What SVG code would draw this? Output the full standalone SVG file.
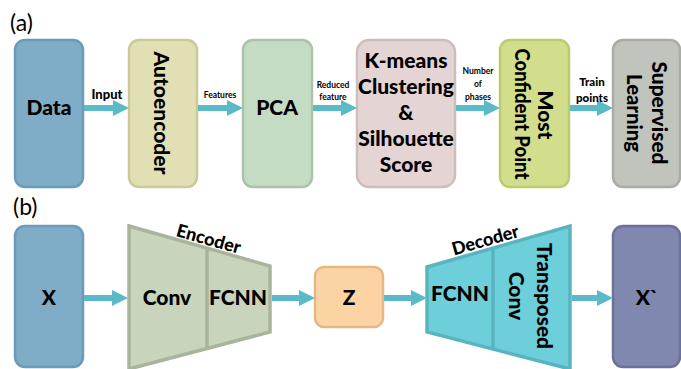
<svg xmlns="http://www.w3.org/2000/svg" width="681" height="369" viewBox="0 0 681 369">
<defs>
<style>
text{font-family:Lato,"Open Sans","Liberation Sans",sans-serif;font-weight:900;fill:#000;text-anchor:middle;}
.big{font-size:21px;}
.lbl{font-size:13px;}
.sm{font-size:8.5px;font-weight:bold;}
.panel{font-weight:normal;font-size:23px;text-anchor:start;}
.tag{font-size:18px;}
.box{stroke-width:2.5;}
.arrow{stroke:#5bbac8;stroke-width:6;fill:none;}
.head{fill:#5bbac8;}
</style>
</defs>
<text class="panel" x="10" y="31">(a)</text>
<text class="panel" x="13" y="215">(b)</text>

<g id="data"><rect class="box" x="15" y="40" width="68" height="147" rx="10" fill="#7fadc8" stroke="#6b9bb8"/><text class="big" x="49" y="115">Data</text></g>
<g id="autoencoder"><rect class="box" x="129" y="40" width="68" height="147" rx="10" fill="#e0e0b4" stroke="#c9c99a"/><text class="big" transform="translate(154,113) rotate(90)" textLength="123" lengthAdjust="spacingAndGlyphs">Autoencoder</text></g>
<g id="pca"><rect class="box" x="243" y="40" width="69" height="147" rx="10" fill="#c4dcc4" stroke="#a9c4a7"/><text class="big" x="277" y="115">PCA</text></g>
<g id="kmeans"><rect class="box" x="357" y="40" width="98" height="147" rx="12" fill="#e4d4d4" stroke="#cdbdbd"/>
<text class="big" x="406" y="68">K-means</text><text class="big" x="406" y="94">Clustering</text><text class="big" x="406" y="120">&amp;</text><text class="big" x="406" y="146">Silhouette</text><text class="big" x="406" y="172">Score</text></g>
<g id="confident"><rect class="box" x="500" y="40" width="69" height="147" rx="10" fill="#d2de8c" stroke="#bccb72"/><text class="big" transform="translate(538,115) rotate(90)">Most</text><text class="big" transform="translate(515,114) rotate(90)" textLength="131" lengthAdjust="spacingAndGlyphs">Confident Point</text></g>
<g id="supervised"><rect class="box" x="613" y="40" width="67" height="147" rx="10" fill="#c0c4bc" stroke="#a8aca4"/><text class="big" transform="translate(652,113) rotate(90)" textLength="103" lengthAdjust="spacingAndGlyphs">Supervised</text><text class="big" transform="translate(627,113) rotate(90)" textLength="78" lengthAdjust="spacingAndGlyphs">Learning</text></g>

<g id="x"><rect class="box" x="15" y="226" width="68" height="141" rx="10" fill="#7fadc8" stroke="#6b9bb8"/><text class="big" x="49" y="305">X</text></g>
<g id="encoder"><polygon points="129,226 270,266 270,332 129,369" fill="#c8d4bc" stroke="#a8b49c" stroke-width="3.5"/><line x1="207" y1="248" x2="207" y2="347" stroke="#a8b49c" stroke-width="3.5"/>
<text class="tag" transform="translate(207,245) rotate(15.7)">Encoder</text>
<text class="big" x="167" y="305">Conv</text><text class="big" x="238" y="305">FCNN</text></g>
<g id="z"><rect class="box" x="315" y="267" width="68" height="60" rx="9" fill="#fcd4a4" stroke="#e3b886"/><text class="big" x="349" y="305">Z</text></g>
<g id="decoder"><polygon points="427,267 570,226 570,369 427,332" fill="#6ccfda" stroke="#5ab4c0" stroke-width="3.5"/><line x1="493" y1="249" x2="493" y2="350" stroke="#5ab4c0" stroke-width="3.5"/>
<text class="tag" transform="translate(487,246) rotate(-16)">Decoder</text>
<text class="big" x="460" y="301">FCNN</text><text class="big" transform="translate(537,296) rotate(90)" textLength="106" lengthAdjust="spacingAndGlyphs">Transposed</text><text class="big" transform="translate(509,296) rotate(90)">Conv</text></g>
<g id="xprime"><rect class="box" x="613" y="226" width="67" height="141" rx="10" fill="#8088b0" stroke="#6b7199"/><text class="big" x="647" y="305">X`</text></g>

<g id="connectors">
<line class="arrow" x1="84" y1="108" x2="115" y2="108"/><polygon class="head" points="113,100 129,108 113,116"/>
<line class="arrow" x1="198" y1="108" x2="229" y2="108"/><polygon class="head" points="227,100 243,108 227,116"/>
<line class="arrow" x1="313" y1="108" x2="343" y2="108"/><polygon class="head" points="341,100 357,108 341,116"/>
<line class="arrow" x1="456" y1="108" x2="486" y2="108"/><polygon class="head" points="484,100 500,108 484,116"/>
<line class="arrow" x1="570" y1="108" x2="599" y2="108"/><polygon class="head" points="597,100 613,108 597,116"/>
<line class="arrow" x1="84" y1="298" x2="114" y2="298"/><polygon class="head" points="112,290 128,298 112,306"/>
<line class="arrow" x1="272" y1="298" x2="301" y2="298"/><polygon class="head" points="299,290 315,298 299,306"/>
<line class="arrow" x1="384" y1="298" x2="413" y2="298"/><polygon class="head" points="411,290 427,298 411,306"/>
<line class="arrow" x1="572" y1="298" x2="599" y2="298"/><polygon class="head" points="597,290 613,298 597,306"/>
<text class="lbl" x="107" y="99">Input</text>
<text class="sm" x="220" y="98">Features</text>
<text class="sm" x="333" y="88">Reduced</text><text class="sm" x="333" y="100">feature</text>
<text class="sm" x="478" y="74">Number</text><text class="sm" x="478" y="87">of</text><text class="sm" x="478" y="100">phases</text>
<text class="lbl" style="font-size:11.5px" x="592" y="86">Train</text><text class="lbl" style="font-size:11.5px" x="592" y="102">points</text>
</g>
</svg>
